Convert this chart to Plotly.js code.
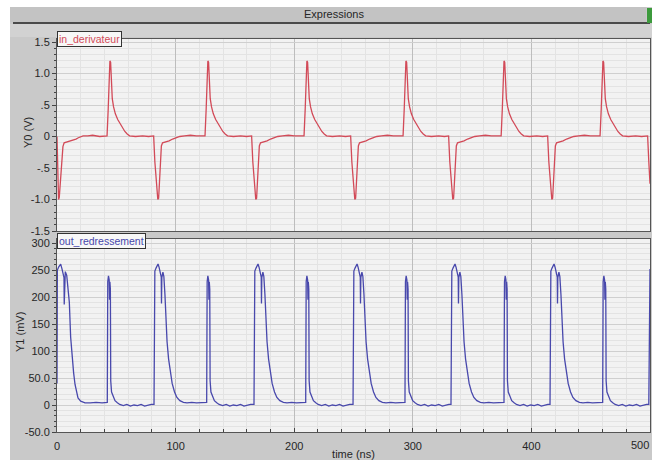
<!DOCTYPE html>
<html>
<head>
<meta charset="utf-8">
<script src="https://cdn.plot.ly/plotly-3.0.1.min.js"></script>
<style>html,body{margin:0;padding:0;background:#fff}#chart{width:652px;height:460px}</style>
</head>
<body>
<div id="chart"></div>
<script>
// in_derivateur : Y0 (V) versus time (ns)
const timeY0 = [
0,0.6,1.3,1.9,3.5,5.0,6.0,8.0,10.0,13.5,16.0,18.0,22.0,26.0,30.0,36.0,40.0,
42.2,43.2,44.0,44.6,45.2,45.8,46.6,47.7,49.2,51.2,53.2,55.2,57.2,59.2,61.2,66.2,72.2,77.2,
81.5,82.5,84.0,85.0,85.7,86.7,88.0,89.0,91.5,94.5,97.5,100.5,103.5,107.5,112.5,117.5,121.8,
124.8,125.8,126.6,127.2,127.8,128.4,129.2,130.3,131.8,133.8,135.8,137.8,139.8,141.8,143.8,148.8,154.8,159.8,
164.1,165.1,166.6,167.6,168.3,169.3,170.6,171.6,174.1,177.1,180.1,183.1,186.1,190.1,195.1,200.1,205.3,
208.3,209.3,210.1,210.7,211.3,211.9,212.7,213.8,215.3,217.3,219.3,221.3,223.3,225.3,227.3,232.3,238.3,243.3,
247.6,248.6,250.1,251.1,251.8,252.8,254.1,255.1,257.6,260.6,263.6,266.6,269.6,273.6,278.6,283.6,288.8,
291.8,292.8,293.6,294.2,294.8,295.4,296.2,297.3,298.8,300.8,302.8,304.8,306.8,308.8,310.8,315.8,321.8,326.8,
330.2,331.2,332.7,333.7,334.4,335.4,336.7,337.7,340.2,343.2,346.2,349.2,352.2,356.2,361.2,366.2,371.5,
374.5,375.5,376.3,376.9,377.5,378.1,378.9,380.0,381.5,383.5,385.5,387.5,389.5,391.5,393.5,398.5,404.5,409.5,
413.7,414.7,416.2,417.2,417.9,418.9,420.2,421.2,423.7,426.7,429.7,432.7,435.7,439.7,444.7,449.7,454.9,
457.9,458.9,459.7,460.3,460.9,461.5,462.3,463.4,464.9,466.9,468.9,470.9,472.9,474.9,476.9,481.9,487.9,492.9,
498.0,499.0,500.0
];
const valuesY0 = [
0,-0.6,-1.0,-0.97,-0.55,-0.16,-0.1,-0.09,-0.08,-0.06,-0.04,-0.02,0.01,0.01,0.02,0.0,0.01,
0.01,0.45,0.95,1.2,1.18,0.9,0.6,0.47,0.36,0.27,0.2,0.13,0.08,0.04,0.01,0.0,0.01,0.0,
0.01,-0.4,-0.85,-1.0,-0.98,-0.6,-0.15,-0.1,-0.09,-0.07,-0.04,-0.02,0.0,0.01,0.02,0.01,0.01,
0.01,0.45,0.95,1.2,1.18,0.9,0.6,0.47,0.36,0.27,0.2,0.13,0.08,0.04,0.01,0.0,0.01,0.0,
0.01,-0.4,-0.85,-1.0,-0.98,-0.6,-0.15,-0.1,-0.09,-0.07,-0.04,-0.02,0.0,0.01,0.02,0.01,0.01,
0.01,0.45,0.95,1.2,1.18,0.9,0.6,0.47,0.36,0.27,0.2,0.13,0.08,0.04,0.01,0.0,0.01,0.0,
0.01,-0.4,-0.85,-1.0,-0.98,-0.6,-0.15,-0.1,-0.09,-0.07,-0.04,-0.02,0.0,0.01,0.02,0.01,0.01,
0.01,0.45,0.95,1.2,1.18,0.9,0.6,0.47,0.36,0.27,0.2,0.13,0.08,0.04,0.01,0.0,0.01,0.0,
0.01,-0.4,-0.85,-1.0,-0.98,-0.6,-0.15,-0.1,-0.09,-0.07,-0.04,-0.02,0.0,0.01,0.02,0.01,0.01,
0.01,0.45,0.95,1.2,1.18,0.9,0.6,0.47,0.36,0.27,0.2,0.13,0.08,0.04,0.01,0.0,0.01,0.0,
0.01,-0.4,-0.85,-1.0,-0.98,-0.6,-0.15,-0.1,-0.09,-0.07,-0.04,-0.02,0.0,0.01,0.02,0.01,0.01,
0.01,0.45,0.95,1.2,1.18,0.9,0.6,0.47,0.36,0.27,0.2,0.13,0.08,0.04,0.01,0.0,0.01,0.0,
0.01,-0.4,-0.75
];

// out_redressement : Y1 (mV) versus time (ns)
const timeY1 = [
0,0.3,1.5,3.1,4.2,5.3,5.9,6.1,6.4,7.0,8.2,9.3,10.4,11.5,12.6,14.0,15.2,16.5,17.7,20.0,23.6,28.0,33.0,38.0,42.0,
42.4,42.8,43.4,44.0,44.3,44.6,45.0,45.3,46.0,47.4,48.9,50.9,52.9,55.9,58.9,61.9,64.9,67.9,70.9,73.9,76.9,79.4,
81.8,82.1,82.5,83.6,85.2,86.1,87.1,87.9,88.1,88.4,89.3,90.1,91.0,91.9,92.8,94.1,95.6,97.1,99.1,101.1,103.6,106.6,109.6,113.6,117.6,121.3,
126.2,126.6,127.2,127.8,128.1,128.4,128.8,129.1,129.8,131.2,132.7,134.7,136.7,139.7,142.7,145.7,148.7,151.7,154.7,157.7,160.7,163.2,
166.1,166.4,166.8,167.9,169.5,170.4,171.4,172.2,172.4,172.7,173.6,174.4,175.3,176.2,177.1,178.4,179.9,181.4,183.4,185.4,187.9,190.9,193.9,197.9,201.9,205.6,
209.7,210.1,210.7,211.3,211.6,211.9,212.3,212.6,213.3,214.7,216.2,218.2,220.2,223.2,226.2,229.2,232.2,235.2,238.2,241.2,244.2,246.7,
249.6,249.9,250.3,251.4,253.0,253.9,254.9,255.7,255.9,256.2,257.1,257.9,258.8,259.7,260.6,261.9,263.4,264.9,266.9,268.9,271.4,274.4,277.4,281.4,285.4,289.1,
293.4,293.8,294.4,295.0,295.3,295.6,296.0,296.3,297.0,298.4,299.9,301.9,303.9,306.9,309.9,312.9,315.9,318.9,321.9,324.9,327.9,330.4,
332.2,332.5,332.9,334.0,335.6,336.5,337.5,338.3,338.5,338.8,339.7,340.5,341.4,342.3,343.2,344.5,346.0,347.5,349.5,351.5,354.0,357.0,360.0,364.0,368.0,371.7,
376.9,377.3,377.9,378.5,378.8,379.1,379.5,379.8,380.5,381.9,383.4,385.4,387.4,390.4,393.4,396.4,399.4,402.4,405.4,408.4,411.4,413.9,
415.7,416.0,416.4,417.5,419.1,420.0,421.0,421.8,422.0,422.3,423.2,424.0,424.9,425.8,426.7,428.0,429.5,431.0,433.0,435.0,437.5,440.5,443.5,447.5,451.5,455.2,
460.1,460.5,461.1,461.7,462.0,462.3,462.7,463.0,463.7,465.1,466.6,468.6,470.6,473.6,476.6,479.6,482.6,485.6,488.6,491.6,494.6,497.1,
499.0,499.3,499.7,500.0
];
const valuesY1 = [
40,250,256,261,252,240,236,186,236,247,240,215,190,126,93,60,38,22,13,7,4,4,5,4,4,
5,228,239,232,195,228,215,45,24,14,8,4,1,-1,1,-2,0,-1,1,-2,0,1,
1,130,248,254,261,255,243,237,188,236,246,238,205,150,117,85,60,40,24,14,8,5,4,5,4,4,
5,228,239,232,195,228,215,45,24,14,8,4,1,-1,1,-2,0,-1,1,-2,0,1,
1,130,248,254,261,255,243,237,188,236,246,238,205,150,117,85,60,40,24,14,8,5,4,5,4,4,
5,228,239,232,195,228,215,45,24,14,8,4,1,-1,1,-2,0,-1,1,-2,0,1,
1,130,248,254,261,255,243,237,188,236,246,238,205,150,117,85,60,40,24,14,8,5,4,5,4,4,
5,228,239,232,195,228,215,45,24,14,8,4,1,-1,1,-2,0,-1,1,-2,0,1,
1,130,248,254,261,255,243,237,188,236,246,238,205,150,117,85,60,40,24,14,8,5,4,5,4,4,
5,228,239,232,195,228,215,45,24,14,8,4,1,-1,1,-2,0,-1,1,-2,0,1,
1,130,248,254,261,255,243,237,188,236,246,238,205,150,117,85,60,40,24,14,8,5,4,5,4,4,
5,228,239,232,195,228,215,45,24,14,8,4,1,-1,1,-2,0,-1,1,-2,0,1,
1,130,248,252
];

const y0TickVals = [-1.5,-1,-0.5,0,0.5,1,1.5];
const y0TickText = ['-1.5','-1.0','-.5','0','.5','1.0','1.5'];
const y1TickVals = [-50,0,50,100,150,200,250,300];
const y1TickText = ['-50.0','0','50.0','100','150','200','250','300'];
const xTickVals = [0,100,200,300,400];
const xTickText = ['0','100','200','300','400'];
const xEdgeTick = 500, xEdgeText = '500';

// pixel helpers for layout geometry (not data)
const W = 652, H = 460, ML = 57, MR = 2, MT = 39, MB = 28;
const PW = W - ML - MR, PH = H - MT - MB;
const px = v => (v - ML) / PW;
const py = v => (H - MB - v) / PH;

const FONT = 'Liberation Sans, Arial, sans-serif';
const gridMajor = '#cfcfcf', gridMinor = '#e3e3e3';
const TXT = '#262626';

const traces = [
  {x: timeY0, y: valuesY0, xaxis: 'x2', yaxis: 'y', type: 'scatter', mode: 'lines',
   line: {color: '#d24a58', width: 1.3}, name: 'in_derivateur', hoverinfo: 'x+y'},
  {x: timeY1, y: valuesY1, xaxis: 'x', yaxis: 'y2', type: 'scatter', mode: 'lines',
   line: {color: '#4848ac', width: 1.3}, name: 'out_redressement', hoverinfo: 'x+y'}
];

const xCommon = {
  range: [0, 500], tickvals: xTickVals, ticktext: xTickText,
  showgrid: true, gridcolor: '#bdbdbd', gridwidth: 1, zeroline: false,
  showline: true, mirror: true, linecolor: '#555', linewidth: 1,
  minor: {dtick: 20, tick0: 0, showgrid: true, gridcolor: gridMinor, ticks: 'inside', ticklen: 3, tickcolor: '#444'},
  ticks: 'inside', ticklen: 4, tickcolor: '#444',
  tickfont: {family: FONT, size: 11, color: TXT}
};

const layout = {
  width: W, height: H,
  margin: {l: ML, r: MR, t: MT, b: MB},
  paper_bgcolor: '#c9c9c9', plot_bgcolor: '#f2f2f2',
  showlegend: false,
  font: {family: FONT, size: 11, color: TXT},
  xaxis: Object.assign({}, xCommon, {anchor: 'y2', ticklabelstandoff: 4,
    title: {text: 'time (ns)', standoff: 5, font: {family: FONT, size: 11, color: TXT}}}),
  xaxis2: Object.assign({}, xCommon, {anchor: 'y', matches: 'x', showticklabels: false, ticks: '',
    minor: {dtick: 20, tick0: 0, showgrid: true, gridcolor: gridMinor, ticks: ''}}),
  yaxis: {
    domain: [py(231), 1], anchor: 'x2', range: [-1.5, 1.548],
    tickvals: y0TickVals, ticktext: y0TickText,
    showgrid: true, gridcolor: gridMajor, zeroline: false,
    showline: true, mirror: true, linecolor: '#555', linewidth: 1,
    ticks: 'outside', ticklen: 4, tickcolor: '#444',
    minor: {dtick: 0.1, tick0: 0, showgrid: true, gridcolor: gridMinor, ticks: 'outside', ticklen: 2, tickcolor: '#444'},
    tickfont: {family: FONT, size: 11, color: TXT}
  },
  yaxis2: {
    domain: [0, py(239)], anchor: 'x', range: [-50, 307.4],
    tickvals: y1TickVals, ticktext: y1TickText,
    showgrid: true, gridcolor: gridMajor, zeroline: false,
    showline: true, mirror: true, linecolor: '#555', linewidth: 1,
    ticks: 'outside', ticklen: 4, tickcolor: '#444',
    minor: {dtick: 10, tick0: 0, showgrid: true, gridcolor: gridMinor, ticks: 'outside', ticklen: 2, tickcolor: '#444'},
    tickfont: {family: FONT, size: 11, color: TXT}
  },
  shapes: [
    {type: 'rect', xref: 'paper', yref: 'paper', x0: px(0), x1: px(652), y0: py(7), y1: py(0), fillcolor: '#ffffff', line: {width: 0}, layer: 'below'},
    {type: 'rect', xref: 'paper', yref: 'paper', x0: px(0), x1: px(10), y0: py(460), y1: py(0), fillcolor: '#ffffff', line: {width: 0}, layer: 'below'},
    {type: 'rect', xref: 'paper', yref: 'paper', x0: px(10), x1: px(646), y0: py(22), y1: py(7), fillcolor: '#c3c3c3', line: {width: 0}, layer: 'below'},
    {type: 'rect', xref: 'paper', yref: 'paper', x0: px(10), x1: px(652), y0: py(37), y1: py(24), fillcolor: '#d2d2d2', line: {width: 0}, layer: 'below'},
    {type: 'line', xref: 'paper', yref: 'paper', x0: px(13), x1: px(650), y0: py(23), y1: py(23), line: {color: '#4a4a4a', width: 2}},
    {type: 'rect', xref: 'paper', yref: 'paper', x0: px(647), x1: px(652), y0: py(23), y1: py(8), fillcolor: '#3c9a3c', line: {width: 0}}
  ],
  annotations: [
    {text: 'Expressions', xref: 'paper', yref: 'paper', x: px(334), y: py(14), xanchor: 'center', yanchor: 'middle',
     showarrow: false, font: {family: FONT, size: 11, color: TXT}},
    {text: 'Y0 (V)', xref: 'paper', yref: 'paper', x: px(28), y: py(133), xanchor: 'center', yanchor: 'middle',
     textangle: -90, showarrow: false, font: {family: FONT, size: 11, color: TXT}},
    {text: 'Y1 (mV)', xref: 'paper', yref: 'paper', x: px(20), y: py(332), xanchor: 'center', yanchor: 'middle',
     textangle: -90, showarrow: false, font: {family: FONT, size: 11, color: TXT}},
    {text: xEdgeText, xref: 'paper', yref: 'paper', x: px(651), y: py(445), xanchor: 'right', yanchor: 'middle',
     showarrow: false, font: {family: FONT, size: 11, color: TXT}},
    {text: 'in_derivateur', xref: 'paper', yref: 'paper', x: px(57), y: py(39.5), xanchor: 'left', yanchor: 'middle',
     showarrow: false, bgcolor: '#f7f7f7', bordercolor: '#333', borderwidth: 1, borderpad: 1,
     font: {family: FONT, size: 10.5, color: '#d24a58'}},
    {text: 'out_redressement', xref: 'paper', yref: 'paper', x: px(57), y: py(240.5), xanchor: 'left', yanchor: 'middle',
     showarrow: false, bgcolor: '#f7f7f7', bordercolor: '#333', borderwidth: 1, borderpad: 1,
     font: {family: FONT, size: 10.5, color: '#4848ac'}}
  ]
};

Plotly.newPlot('chart', traces, layout, {staticPlot: true, displayModeBar: false});
</script>
</body>
</html>
